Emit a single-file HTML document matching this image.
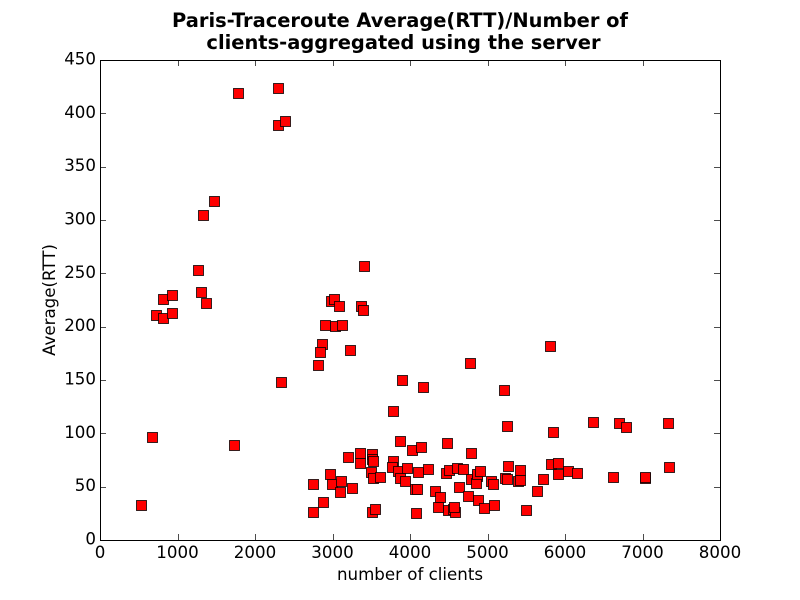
<!DOCTYPE html>
<html>
<head>
<meta charset="utf-8">
<title>Paris-Traceroute Average(RTT)</title>
<style>
html,body{margin:0;padding:0;background:#fff;}
svg{display:block;}
text{font-family:"DejaVu Sans",sans-serif;fill:#000;}
</style>
</head>
<body>
<svg id="chart" width="800" height="600" viewBox="0 0 800 600" xmlns="http://www.w3.org/2000/svg">
  <rect x="0" y="0" width="800" height="600" fill="#fff"/>
  <rect x="100" y="60" width="620" height="480" fill="#fff"/>
  <g id="points"></g>
  <g id="ticks"></g>
  <rect x="100.5" y="60.5" width="620" height="480" fill="none" stroke="#000" stroke-width="1"/>
  <g id="tick-labels" font-size="16.67"></g>
  <text x="400" y="27" text-anchor="middle" font-size="19.44" font-weight="bold">Paris-Traceroute Average(RTT)/Number of</text>
  <text x="403.5" y="49" text-anchor="middle" font-size="19.44" font-weight="bold">clients-aggregated using the server</text>
  <text x="410" y="580" text-anchor="middle" font-size="16.67">number of clients</text>
  <text x="0" y="0" transform="translate(55,300) rotate(-90)" text-anchor="middle" font-size="16.67">Average(RTT)</text>
</svg>
<script>
const xTicks = [0, 1000, 2000, 3000, 4000, 5000, 6000, 7000, 8000];
const yTicks = [0, 50, 100, 150, 200, 250, 300, 350, 400, 450];
const clients = [529, 671, 722, 813, 813, 929, 929, 1264, 1303, 1368, 1329, 1471, 1781, 1729, 2297, 2297, 2387, 2330,
  3406, 2985, 3019, 3084, 3368, 3393, 3032, 3122, 2903, 3226, 2870, 2840, 2810, 3897, 4168, 4774, 5213, 5806,
  3785, 3875, 4030, 4146, 4482, 4791, 3204, 3359, 3359, 3514, 3514, 3527, 3785, 3772, 3849, 3966, 4108, 4237,
  3875, 3940, 3501, 3527, 3617, 2971, 2997, 3114, 3101, 3256, 2752, 2882, 2752, 3514, 3553, 4081, 4069, 4094,
  4327, 4391, 4365, 4495, 4559, 4585, 4572, 4469, 4508, 4611, 4688, 4791, 4869, 4637, 4752, 4881, 5256, 5849,
  6365, 6701, 4856, 4869, 4907, 5049, 5075, 5268, 5423, 5230, 5256, 5397, 5423, 5720, 5642, 5500, 5823, 5913,
  5913, 6043, 6159, 6623, 4959, 5088, 6787, 7329, 7342, 7032, 7032];
const avgRtt = [32.8, 96.6, 210.9, 226, 208, 229.7, 212.8, 253, 232.5, 222, 304.7, 317.8, 419, 89, 423.7, 389, 392.8, 148,
  257, 224, 226, 219, 219, 215.6, 200.6, 202, 202, 178, 183.6, 176, 164, 150, 143, 166, 141, 182,
  120.6, 92.5, 84, 87, 90.6, 82, 77.5, 81.3, 71.9, 80.3, 75.7, 73.8, 73.8, 68, 64.4, 67.2, 63.5, 66.3,
  57.8, 55, 63.5, 57.8, 58.8, 61.6, 52.2, 55, 44.7, 48.5, 52.2, 35.3, 26, 26, 28.8, 25, 47.5, 47.5,
  45.7, 40, 30.7, 27.8, 28.8, 26, 30.7, 62.5, 65.3, 67.2, 66.3, 56.9, 59.7, 49.4, 41, 37.2, 106.6, 101,
  110.3, 109.4, 53.2, 61.6, 64.4, 55, 52.2, 69, 65.3, 57.8, 56.9, 55, 56, 56.9, 45.7, 27.8, 71, 71.9,
  61.6, 64.4, 62.5, 58.8, 29.7, 32.5, 106, 109.7, 68.4, 58, 59];

const NS = 'http://www.w3.org/2000/svg';
function xScale(v) { return 100 + (v - 0) / 8000 * 620; }
function yScale(v) { return 540 - (v - 0) / 450 * 480; }

const pointsGroup = document.getElementById('points');
const ticksGroup = document.getElementById('ticks');
const labelsGroup = document.getElementById('tick-labels');
const markerSize = 10;

clients.forEach(function (c, i) {
  const r = document.createElementNS(NS, 'rect');
  
  
  r.setAttribute('x', Math.round(xScale(c) - markerSize / 2) + 0.5);
  r.setAttribute('y', Math.round(yScale(avgRtt[i]) - markerSize / 2) + 0.5);
  r.setAttribute('width', markerSize);
  r.setAttribute('height', markerSize);
  r.setAttribute('fill', '#ff0000');
  r.setAttribute('stroke', 'rgba(0,0,0,0.78)');
  r.setAttribute('stroke-width', '1');
  pointsGroup.appendChild(r);
});

function addTick(x1, y1, x2, y2) {
  const l = document.createElementNS(NS, 'line');
  
  
  l.setAttribute('x1', x1);
  l.setAttribute('y1', y1);
  l.setAttribute('x2', x2);
  l.setAttribute('y2', y2);
  l.setAttribute('stroke', '#000');
  l.setAttribute('stroke-width', '0.7');
  ticksGroup.appendChild(l);
}

function addLabel(x, y, anchor, str) {
  const t = document.createElementNS(NS, 'text');
  
  
  t.setAttribute('x', x);
  t.setAttribute('y', y);
  t.setAttribute('text-anchor', anchor);
  t.textContent = str;
  labelsGroup.appendChild(t);
}

xTicks.forEach(function (v) {
  const x = Math.round(xScale(v)) + 0.5;
  addTick(x, 540, x, 534);
  addTick(x, 60, x, 66);
  addLabel(xScale(v), 558, 'middle', String(v));
});
yTicks.forEach(function (v) {
  const y = Math.round(yScale(v)) + 0.5;
  addTick(100, y, 106, y);
  addTick(720, y, 714, y);
  addLabel(96, yScale(v) + 4.5, 'end', String(v));
});
</script>
</body>
</html>
